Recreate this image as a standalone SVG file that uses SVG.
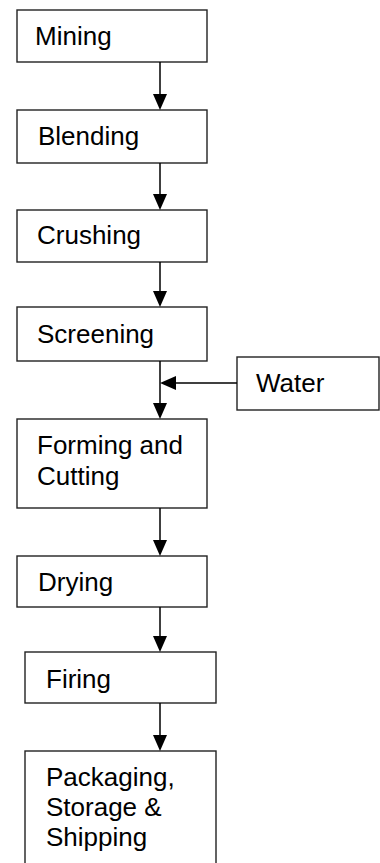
<svg xmlns="http://www.w3.org/2000/svg" width="380" height="863" viewBox="0 0 380 863">
<style>
.box{fill:#fff;stroke:#222;stroke-width:1.4}
.t{font-family:"Liberation Sans",Arial,sans-serif;font-size:26px;fill:#000}
.c{stroke:#000;stroke-width:1.5;fill:none}
.ah{fill:#000}
</style>
<rect width="380" height="863" fill="#fff"/>
<g id="mining"><rect class="box" x="17" y="10" width="190" height="52"/><text class="t" x="35" y="45">Mining</text></g>
<g id="blending"><rect class="box" x="17" y="110" width="190" height="53"/><text class="t" x="38" y="145">Blending</text></g>
<g id="crushing"><rect class="box" x="17" y="210" width="190" height="52"/><text class="t" x="37" y="244">Crushing</text></g>
<g id="screening"><rect class="box" x="17" y="307" width="190" height="54"/><text class="t" x="37" y="343">Screening</text></g>
<g id="water"><rect class="box" x="237" y="357" width="142" height="53"/><text class="t" x="256" y="392">Water</text></g>
<g id="forming"><rect class="box" x="17" y="419" width="190" height="89"/><text class="t" x="37" y="454">Forming and</text><text class="t" x="37" y="485">Cutting</text></g>
<g id="drying"><rect class="box" x="17" y="556" width="190" height="51"/><text class="t" x="38" y="591">Drying</text></g>
<g id="firing"><rect class="box" x="25" y="652" width="191" height="51"/><text class="t" x="46" y="688">Firing</text></g>
<g id="packaging"><rect class="box" x="25" y="751" width="191" height="120"/><text class="t" x="46" y="786">Packaging,</text><text class="t" x="46" y="816">Storage &amp;</text><text class="t" x="46" y="846">Shipping</text></g>
<g id="connectors">
<line class="c" x1="160" y1="62" x2="160" y2="96"/><polygon class="ah" points="153,94 167,94 160,110"/>
<line class="c" x1="160" y1="163" x2="160" y2="196"/><polygon class="ah" points="153,194 167,194 160,210"/>
<line class="c" x1="160" y1="262" x2="160" y2="293"/><polygon class="ah" points="153,291 167,291 160,307"/>
<line class="c" x1="160" y1="361" x2="160" y2="405"/><polygon class="ah" points="153,403 167,403 160,419"/>
<line class="c" x1="237" y1="383" x2="174" y2="383"/><polygon class="ah" points="176,376 176,390 160,383"/>
<line class="c" x1="160" y1="508" x2="160" y2="542"/><polygon class="ah" points="153,540 167,540 160,556"/>
<line class="c" x1="160" y1="607" x2="160" y2="638"/><polygon class="ah" points="153,636 167,636 160,652"/>
<line class="c" x1="160" y1="703" x2="160" y2="737"/><polygon class="ah" points="153,735 167,735 160,751"/>
</g>
</svg>
